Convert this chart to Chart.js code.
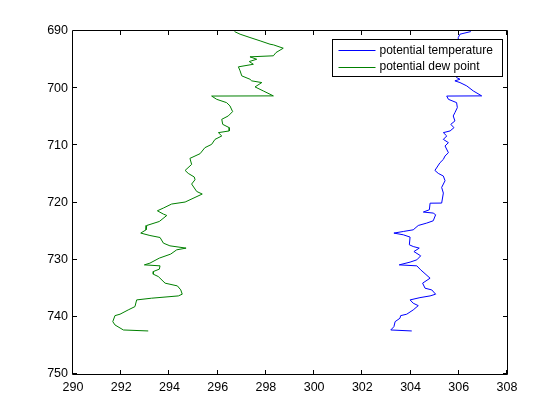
<!DOCTYPE html>
<html>
<head>
<meta charset="utf-8">
<script src="https://cdn.jsdelivr.net/npm/chart.js@4"></script>
<style>
html,body{margin:0;padding:0;background:#fff;}
canvas{display:block;}
</style>
</head>
<body>
<canvas id="c" width="560" height="420"></canvas>
<script>
// ---- data (pressure levels in hPa, temperatures in K) ----
const seriesNames = ['potential temperature', 'potential dew point'];

const thetaP = [690.1,690.56,691.14,698.15,698.44,698.72,699.02,699.6,700.48,701.35,701.38,701.95,702.53,703.4,704.28,704.86,705.73,706.33,706.91,707.48,707.78,708.36,708.96,709.53,710.11,711.29,711.86,712.46,713.04,714.39,714.91,715.37,716.19,717.36,718.35,720.1,720.12,721.27,721.67,721.85,722.15,723.2,723.6,724.02,724.78,725.07,725.35,725.65,726.05,727.4,727.7,727.98,728.58,729.33,730.03,730.43,730.91,731.08,731.78,733.24,734.11,734.99,735.29,736.04,736.34,736.64,737.04,737.62,738.04,738.79,739.54,739.79,740.25,740.84,741.72,742.3,742.47];
const thetaT = [306.5,306.05,305.98,305.91,306.05,305.84,306.05,306.33,306.6,306.95,305.5,305.57,305.91,305.94,305.84,305.77,305.84,305.67,305.8,305.64,305.36,305.5,305.36,305.57,305.43,305.57,305.43,305.36,305.22,305.01,305.15,305.36,305.43,305.29,305.36,305.29,304.81,304.78,304.53,304.94,305.04,304.94,304.67,304.32,304.11,303.7,303.31,303.7,303.98,303.95,304.11,304.36,304.14,304.42,304.26,303.98,303.53,304.26,304.42,304.81,304.5,304.6,304.88,305.04,304.81,304.39,303.98,304.11,304.32,304.11,303.84,303.59,303.56,303.36,303.31,303.18,304.05];

const dewP = [690.1,690.56,691.14,691.72,692.31,692.42,693.01,693.77,694.34,694.52,694.94,695.34,695.82,696.27,696.97,697.85,698.44,698.72,699.02,699.78,700.48,701.35,701.38,701.95,702.53,703.1,704.1,704.86,705.45,706.33,706.91,707.48,707.78,708.36,708.96,709.83,710.41,711.46,712.28,713.34,714.39,714.91,715.54,716.02,716.77,718.07,718.52,719.92,720.27,720.97,721.45,722.03,722.27,723.32,724.02,724.78,725.35,725.77,726.12,727.11,727.58,727.98,728.28,729.03,729.73,730.61,730.91,731.08,731.66,732.08,732.54,732.96,734.11,734.59,735.29,736.04,736.34,736.74,737.04,738.21,738.79,739.54,739.79,740.84,741.42,742.3,742.47];
const dewT = [296.7,296.93,297.34,297.76,298.17,298.31,298.72,298.42,298.31,297.34,297.62,297.31,297.48,296.86,296.93,297.0,297.34,297.41,297.83,297.55,297.89,298.31,295.75,295.96,296.37,296.51,296.62,296.44,296.17,296.21,296.48,296.48,296.03,296.17,295.89,295.75,295.47,295.27,294.85,294.92,294.65,294.78,295.03,295.06,294.92,295.13,295.36,294.65,294.09,293.75,293.5,293.75,293.89,293.58,293.06,293.03,292.81,293.19,293.61,293.75,294.02,294.69,294.3,294.05,293.58,293.19,292.96,293.61,293.58,293.33,293.33,293.54,293.82,294.33,294.47,294.53,294.37,293.26,292.64,292.57,292.29,291.95,291.74,291.65,291.74,292.09,293.12];

const xTicks = [290,292,294,296,298,300,302,304,306,308];
const yTicks = [690,700,710,720,730,740,750];
// ---------------------------------------------------------

const toPts = (xs, ys) => xs.map((x, i) => ({x: x, y: ys[i]}));
const FONT = 'Liberation Sans, Arial, Helvetica, sans-serif';

const matlabBox = {
  id: 'matlabBox',
  beforeDraw(chart) {
    const c = chart.ctx;
    c.save();
    c.fillStyle = '#fff';
    c.fillRect(0, 0, chart.width, chart.height);
    c.restore();
  },
  afterDraw(chart) {
    const c = chart.ctx;
    const a = chart.chartArea;
    const xs = chart.scales.x, ys = chart.scales.y;
    const TL = 4;
    c.save();
    c.strokeStyle = '#000';
    c.lineWidth = 1;
    c.beginPath();
    c.rect(Math.round(a.left) - 0.5, Math.round(a.top) - 0.5, Math.round(a.right - a.left) + 1, Math.round(a.bottom - a.top) + 1);
    // inward ticks
    xTicks.forEach(v => {
      const px = Math.round(xs.getPixelForValue(v)) - 0.5;
      c.moveTo(px, a.bottom); c.lineTo(px, a.bottom - TL);
      c.moveTo(px, a.top); c.lineTo(px, a.top + TL);
    });
    yTicks.forEach(v => {
      const py = Math.round(ys.getPixelForValue(v)) - 0.5;
      c.moveTo(a.left, py); c.lineTo(a.left + TL, py);
      c.moveTo(a.right, py); c.lineTo(a.right - TL, py);
    });
    c.stroke();

    // legend (NE, boxed, white background)
    const bw = 170, bh = 37;
    const bx = Math.round(a.right) - 4.5 - bw, by = Math.round(a.top) + 8.5;
    c.fillStyle = '#fff';
    c.fillRect(bx, by, bw, bh);
    c.strokeRect(bx, by, bw, bh);
    c.font = '12px ' + FONT;
    c.textBaseline = 'middle';
    c.textAlign = 'left';
    const rows = [by + 10.5, by + 27];
    chart.data.datasets.forEach((ds, i) => {
      c.strokeStyle = ds.borderColor;
      c.beginPath();
      c.moveTo(bx + 6, Math.round(rows[i]) + 0.5);
      c.lineTo(bx + 43, Math.round(rows[i]) + 0.5);
      c.stroke();
      c.fillStyle = '#000';
      c.fillText(ds.label, bx + 47, rows[i] + 0.5);
    });
    c.restore();
  }
};

new Chart(document.getElementById('c'), {
  type: 'scatter',
  data: {
    datasets: [
      { label: seriesNames[0], data: toPts(thetaT, thetaP), borderColor: '#0000ff', backgroundColor: '#0000ff',
        showLine: true, borderWidth: 1, pointRadius: 0, tension: 0 },
      { label: seriesNames[1], data: toPts(dewT, dewP), borderColor: '#008000', backgroundColor: '#008000',
        showLine: true, borderWidth: 1, pointRadius: 0, tension: 0 }
    ]
  },
  options: {
    responsive: false,
    animation: false,
    layout: { padding: { top: 31, right: 53, left: 0, bottom: 0 } },
    plugins: { legend: { display: false }, tooltip: { enabled: false } },
    scales: {
      x: {
        type: 'linear', min: 290, max: 308,
        afterBuildTicks: s => { s.ticks = xTicks.map(v => ({value: v})); },
        afterFit: s => { s.height = 46; },
        grid: { display: false, drawTicks: false },
        border: { display: false },
        ticks: { color: '#000', font: { family: FONT, size: 12.5 }, padding: 6, maxRotation: 0, autoSkip: false }
      },
      y: {
        type: 'linear', min: 690, max: 750, reverse: true,
        afterBuildTicks: s => { s.ticks = yTicks.map(v => ({value: v})); },
        afterFit: s => { s.width = 73; },
        grid: { display: false, drawTicks: false },
        border: { display: false },
        ticks: { color: '#000', font: { family: FONT, size: 12.5 }, padding: 5, autoSkip: false }
      }
    }
  },
  plugins: [matlabBox]
});
</script>
</body>
</html>
